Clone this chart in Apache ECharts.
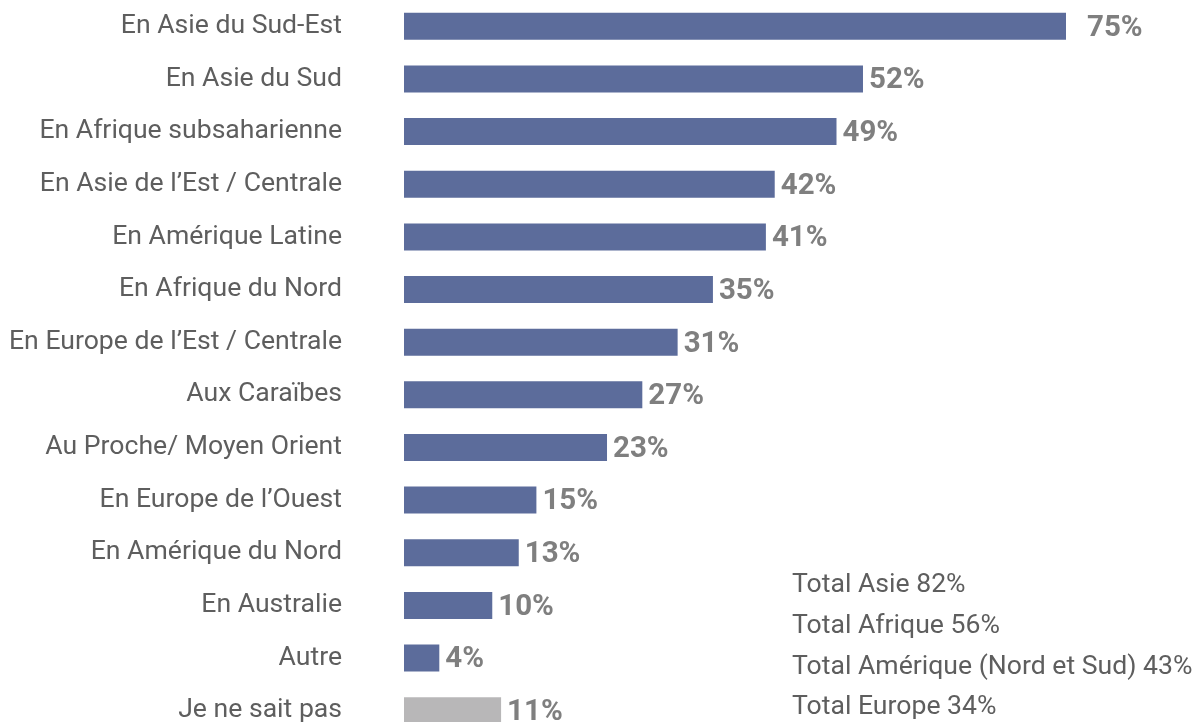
<!DOCTYPE html>
<html>
<head>
<meta charset="utf-8">
<script src="https://cdn.jsdelivr.net/npm/echarts@6/dist/echarts.min.js"></script>
<style>
    html, body { margin: 0; padding: 0; background: #fff; }
    #chart { width: 1195px; height: 722px; }
</style>
</head>
<body>
<div id="chart"></div>
<script>
// données
var categories = [
    "En Asie du Sud-Est",
    "En Asie du Sud",
    "En Afrique subsaharienne",
    "En Asie de l\u2019Est / Centrale",
    "En Amérique Latine",
    "En Afrique du Nord",
    "En Europe de l\u2019Est / Centrale",
    "Aux Caraïbes",
    "Au Proche/ Moyen Orient",
    "En Europe de l\u2019Ouest",
    "En Amérique du Nord",
    "En Australie",
    "Autre",
    "Je ne sait pas"
];
var values = [75, 52, 49, 42, 41, 35, 31, 27, 23, 15, 13, 10, 4, 11];
var totals = [
    "Total Asie 82%",
    "Total Afrique 56%",
    "Total Amérique (Nord et Sud) 43%",
    "Total Europe 34%"
];

var blue = "#5c6c9b";
var grey = "#b8b7b8";

var chart = echarts.init(document.getElementById("chart"));

var barData = values.map(function (v, i) {
    var item = { value: v };
    if (i === values.length - 1) {
        item.itemStyle = { color: grey };
    }
    if (i === 0) {
        item.label = { distance: 21 };
    }
    return item;
});

var totalTexts = totals.map(function (t, i) {
    return {
        type: "text",
        left: 792,
        top: 572 + i * 40.7,
        style: {
            text: t,
            font: "26.6px Roboto",
            fill: "#5e5e5e"
        }
    };
});

chart.setOption({
    animation: false,
    grid: {
        left: 404, right: 129, top: 0, height: 737,
        containLabel: false,
        outerBoundsMode: "none"
    },
    xAxis: {
        type: "value",
        min: 0,
        max: 75,
        show: false
    },
    yAxis: {
        type: "category",
        data: categories,
        inverse: true,
        axisLine: { show: false },
        axisTick: { show: false },
        splitLine: { show: false },
        axisLabel: {
            margin: 62,
            fontFamily: "Roboto",
            fontSize: 26.6,
            color: "#5e5e5e",
            padding: [7, 0, 0, 0]
        }
    },
    series: [{
        type: "bar",
        data: barData,
        barWidth: 27,
        itemStyle: { color: blue },
        label: {
            show: true,
            position: "right",
            distance: 6,
            offset: [0, 2],
            formatter: "{c}%",
            fontFamily: "Roboto",
            fontWeight: "bold",
            fontSize: 29.5,
            color: "#7f7f7f"
        }
    }],
    graphic: totalTexts
});
</script>
</body>
</html>
